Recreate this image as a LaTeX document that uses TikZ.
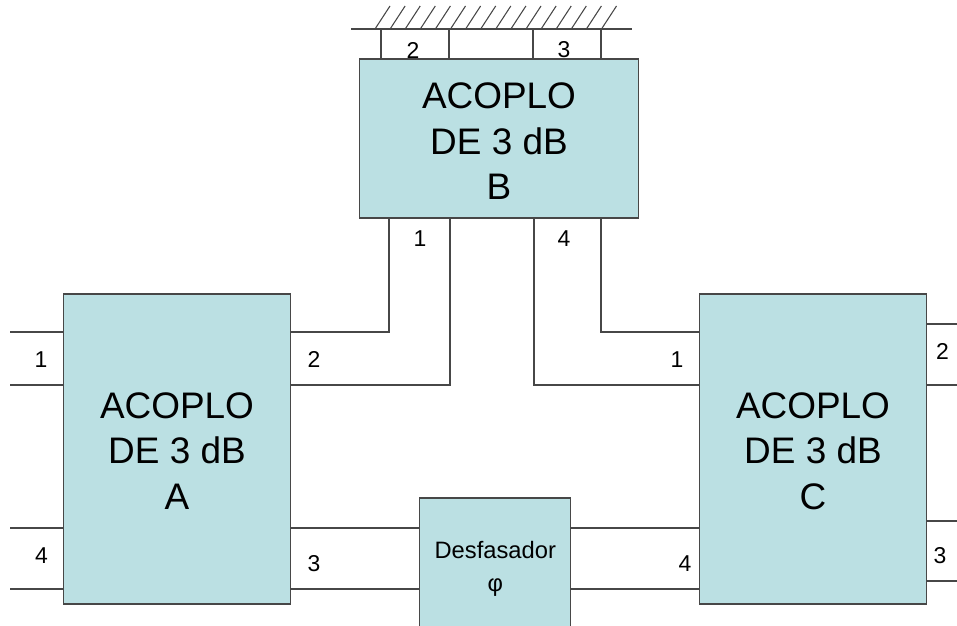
\documentclass[tikz,border=0pt]{standalone}
\usepackage{fontspec}
\setmainfont{Liberation Sans}
\tikzset{
  wire/.style={draw=black!72, line width=0.8pt, line join=miter},
  block/.style={draw=black!72, fill=boxfill, line width=0.8pt, inner sep=0pt, align=center,
    font=\fontsize{27.7}{34.1}\selectfont},
  shifter/.style={draw=black!72, fill=boxfill, line width=0.8pt, inner sep=0pt, align=center,
    font=\fontsize{17.8}{24.8}\selectfont},
  port/.style={inner sep=0pt, font=\fontsize{17.2}{20}\selectfont},
}
\definecolor{boxfill}{HTML}{BBE0E3}
\begin{document}
\begin{tikzpicture}[x=0.75pt,y=-0.75pt]
\useasboundingbox (0,0) rectangle (957,625);
\clip (0,0) rectangle (957,625);
% blocks
\node[block, minimum width=170.25pt, minimum height=232.5pt] (A) at (177,449) {\rule{0pt}{22.4pt}ACOPLO\\DE 3 dB\\A};
\node[block, minimum width=170.25pt, minimum height=232.5pt] (C) at (813,449) {\rule{0pt}{22.4pt}ACOPLO\\DE 3 dB\\C};
\node[block, minimum width=209.25pt, minimum height=119.25pt] (B) at (499,138.5) {\rule{0pt}{23.7pt}ACOPLO\\DE 3 dB\\B};
\node[shifter, minimum width=113.25pt, minimum height=102.75pt] (D) at (495.25,566.5) {\rule{0pt}{16pt}Desfasador\\φ};
% free ends and routing points
\foreach \n/\x/\y in {
  al1/10/332, al2/10/385, al4/10/528, al5/10/589,
  cr1/957/324, cr2/957/385, cr3/957/521, cr4/957/581,
  g0/351/29, g1/632/29,
  w1/381/29, w2/449/29, w3/533/29, w4/601/29,
  b1/389/218, b2/450/218, b3/534/218, b4/601/218,
  t1/381/59, t2/449/59, t3/533/59, t4/601/59,
  r1/389/332, r2/450/385, r3/534/385, r4/601/332,
  ya/0/332, yb/0/385, yc/0/528, yd/0/589, ye/0/324, yf/0/521, yg/0/581}
  \coordinate (\n) at (\x,\y);
% left of A
\draw[wire] (al1) -- (A.west |- ya);
\draw[wire] (al2) -- (A.west |- yb);
\draw[wire] (al4) -- (A.west |- yc);
\draw[wire] (al5) -- (A.west |- yd);
% A to B
\draw[wire] (A.east |- ya) -- (r1) -- (b1);
\draw[wire] (A.east |- yb) -- (r2) -- (b2);
% B to C
\draw[wire] (b4) -- (r4) -- (C.west |- ya);
\draw[wire] (b3) -- (r3) -- (C.west |- yb);
% A to shifter to C
\draw[wire] (A.east |- yc) -- (D.west |- yc);
\draw[wire] (A.east |- yd) -- (D.west |- yd);
\draw[wire] (D.east |- yc) -- (C.west |- yc);
\draw[wire] (D.east |- yd) -- (C.west |- yd);
% right of C
\draw[wire] (C.east |- ye) -- (cr1);
\draw[wire] (C.east |- yb) -- (cr2);
\draw[wire] (C.east |- yf) -- (cr3);
\draw[wire] (C.east |- yg) -- (cr4);
% ground and shorted stubs
\draw[wire] (g0) -- (g1);
\draw[wire] (w1) -- (t1);
\draw[wire] (w2) -- (t2);
\draw[wire] (w3) -- (t3);
\draw[wire] (w4) -- (t4);
\foreach \i in {0,...,15}
  \draw[wire] (375+15.1*\i,29) -- (390+15.1*\i,6);
% port labels
\node[port] (pa1) at (41,360) {1};
\node[port] (pa2) at (314,359.5) {2};
\node[port] (pa3) at (314,564) {3};
\node[port] (pa4) at (41.5,555.7) {4};
\node[port] (pc1) at (677,360) {1};
\node[port] (pc2) at (942.5,351.7) {2};
\node[port] (pc3) at (940,556) {3};
\node[port] (pc4) at (685,564) {4};
\node[port] (pb1) at (420,239) {1};
\node[port] (pb2) at (413,50) {2};
\node[port] (pb3) at (564,50) {3};
\node[port] (pb4) at (564,239) {4};
\end{tikzpicture}
\end{document}
